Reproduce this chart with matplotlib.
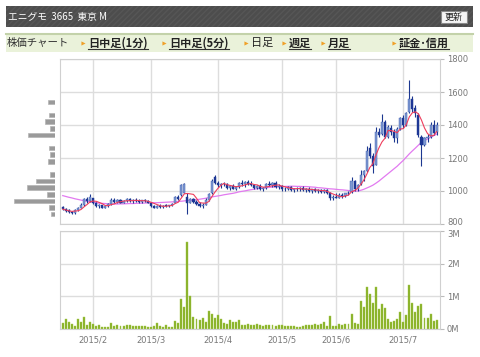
import numpy as np
import pandas as pd
import matplotlib
matplotlib.use('Agg')
import matplotlib.pyplot as plt
import matplotlib.transforms as mtransforms
from matplotlib.patches import Rectangle

plt.rcParams['font.family'] = ['DejaVu Sans', 'Noto Sans CJK JP']
JP = ['Noto Sans CJK JP', 'DejaVu Sans']

# trading days shown (TSE, 2015/1/19 - 2015/7/16)
jp_holidays = ['2015-02-11', '2015-04-29', '2015-05-04', '2015-05-05', '2015-05-06']
dates = pd.bdate_range('2015-01-19', '2015-07-16')
dates = dates[~dates.isin(pd.to_datetime(jp_holidays))]

opens = [905, 892, 882, 872, 866, 885, 900, 918, 950, 940,
         955, 925, 910, 915, 900, 910, 920, 945, 935, 945,
         930, 940, 950, 940, 945, 940, 935, 945, 940, 930,
         910, 900, 910, 905, 912, 910, 915, 930, 965, 975,
         990, 965, 930, 950, 935, 920, 910, 918, 948, 985,
         1085, 1050, 1035, 1045, 1040, 1020, 1030, 1015, 1025, 1050,
         1040, 1055, 1045, 1035, 1020, 1030, 1010, 1020, 1045, 1035,
         1050, 1025, 1030, 1010, 1015, 1025, 1005, 1015, 1010, 1020,
         1005, 1015, 1000, 1010, 1000, 1005, 995, 1005, 985, 955,
         965, 960, 975, 968, 985, 995, 1060, 1010, 1040, 1100,
         1120, 1260, 1215, 1160, 1360, 1345, 1420, 1330, 1380, 1355,
         1320, 1375, 1440, 1400, 1480, 1560, 1500, 1460, 1330, 1280,
         1320, 1330, 1400, 1355]
highs = [910, 900, 890, 880, 890, 905, 925, 955, 962, 980,
         960, 935, 920, 918, 915, 925, 955, 955, 950, 950,
         945, 960, 955, 950, 955, 950, 948, 950, 945, 935,
         915, 915, 920, 915, 920, 918, 925, 970, 975, 1045,
         1050, 985, 960, 955, 945, 935, 925, 955, 990, 1070,
         1095, 1060, 1050, 1055, 1048, 1035, 1040, 1030, 1055, 1065,
         1060, 1065, 1060, 1045, 1035, 1040, 1025, 1050, 1060, 1055,
         1058, 1040, 1035, 1025, 1030, 1030, 1020, 1025, 1025, 1028,
         1020, 1022, 1015, 1020, 1015, 1015, 1010, 1010, 995, 975,
         985, 985, 990, 990, 1000, 1085, 1065, 1040, 1125, 1130,
         1270, 1290, 1230, 1390, 1380, 1465, 1430, 1400, 1400, 1375,
         1390, 1450, 1460, 1480, 1670, 1575, 1520, 1470, 1340, 1330,
         1345, 1420, 1430, 1420]
lows = [885, 875, 865, 858, 862, 880, 895, 912, 930, 935,
        920, 905, 900, 895, 895, 905, 915, 930, 930, 925,
        925, 935, 935, 930, 935, 930, 930, 935, 925, 905,
        895, 895, 900, 900, 905, 902, 908, 925, 945, 970,
        985, 860, 925, 925, 915, 905, 900, 915, 940, 980,
        1045, 1025, 1020, 1030, 1015, 1005, 1010, 1005, 1020, 1030,
        1025, 1035, 1030, 1015, 1010, 1005, 1000, 1015, 1030, 1025,
        1020, 1010, 1000, 1000, 1005, 1000, 995, 1000, 1000, 1000,
        995, 995, 990, 995, 990, 985, 985, 980, 945, 945,
        955, 955, 960, 962, 975, 990, 1000, 1000, 1035, 1060,
        1115, 1200, 1110, 1155, 1330, 1340, 1320, 1320, 1340, 1300,
        1290, 1370, 1380, 1395, 1475, 1480, 1450, 1330, 1150, 1270,
        1300, 1320, 1340, 1340]
closes = [890, 880, 870, 866, 885, 900, 918, 950, 938, 965,
          925, 910, 915, 900, 910, 920, 945, 935, 945, 930,
          940, 952, 940, 945, 940, 935, 945, 940, 930, 910,
          900, 910, 905, 912, 910, 915, 920, 965, 950, 1035,
          1045, 930, 952, 935, 920, 910, 918, 948, 982, 1060,
          1050, 1035, 1045, 1040, 1020, 1030, 1015, 1025, 1050, 1040,
          1055, 1045, 1035, 1020, 1030, 1010, 1020, 1045, 1035, 1050,
          1025, 1030, 1010, 1015, 1025, 1005, 1015, 1010, 1020, 1005,
          1015, 1000, 1010, 1000, 1005, 995, 1005, 985, 955, 965,
          960, 975, 968, 985, 990, 1060, 1010, 1035, 1100, 1120,
          1240, 1215, 1150, 1360, 1340, 1420, 1330, 1385, 1355, 1320,
          1375, 1440, 1400, 1470, 1560, 1500, 1470, 1340, 1280, 1320,
          1330, 1400, 1350, 1400]
# 25-day line as drawn on the chart
ma25 = [972, 967, 962, 958, 953, 949, 945, 941, 938, 935,
        932, 929, 926, 925, 924, 922, 921, 921, 921, 922,
        922, 923, 924, 924, 925, 926, 926, 927, 928, 928,
        929, 929, 930, 931, 932, 933, 934, 935, 937, 938,
        940, 942, 943, 945, 947, 950, 953, 956, 960, 964,
        967, 970, 973, 977, 980, 983, 986, 990, 995, 998,
        1001, 1005, 1008, 1011, 1014, 1016, 1018, 1020, 1022, 1024,
        1025, 1026, 1027, 1028, 1028, 1029, 1029, 1028, 1028, 1027,
        1027, 1026, 1024, 1023, 1020, 1019, 1017, 1015, 1013, 1012,
        1010, 1008, 1007, 1005, 1003, 1001, 999, 1000, 1004, 1010,
        1018, 1026, 1035, 1047, 1060, 1075, 1090, 1105, 1120, 1135,
        1150, 1168, 1185, 1205, 1225, 1243, 1260, 1278, 1295, 1305,
        1315, 1325, 1335, 1345]
# volume (millions of shares)
volumes = [.18, .30, .20, .15, .10, .30, .20, .36, .13, .20,
           .15, .10, .13, .06, .06, .07, .18, .10, .13, .10,
           .08, .12, .13, .08, .09, .09, .08, .09, .07, .07,
           .09, .17, .10, .06, .12, .07, .07, .26, .18, .91,
           .66, 2.65, 1.01, .36, .31, .29, .34, .22, .56, .46,
           .35, .43, .32, .17, .16, .28, .22, .20, .28, .13,
           .13, .15, .13, .12, .15, .11, .08, .13, .12, .11,
           .09, .13, .12, .08, .08, .08, .08, .05, .05, .08,
           .12, .12, .11, .15, .12, .16, .20, .10, .40, .10,
           .10, .14, .12, .16, .16, .47, .18, .16, .86, .66,
           1.28, 1.07, .81, 1.30, .62, .76, .64, .31, .21, .25,
           .31, .52, .22, .42, 1.35, .80, .52, .71, .77, .35,
           .35, .47, .25, .27]
# price-band volume profile
profile_prices = [1540, 1460, 1420, 1380, 1340, 1260, 1220, 1180,
                  1100, 1060, 1020, 980, 940, 900, 860]
profile_sizes = [7, 6, 10, 5, 27, 6, 5, 7, 5, 19, 28, 8, 41, 6, 4]

price_ticks = [800, 1000, 1200, 1400, 1600, 1800]
vol_ticks = [0, 1, 2, 3]
vol_tick_labels = ['0M', '1M', '2M', '3M']

nav_items = [('日中足(1分)', 88, True), ('日中足(5分)', 169, True), ('日足', 251, False),
             ('週足', 289, True), ('月足', 328, True), ('証金･信用', 399, True)]

W, H = 480, 357
fig = plt.figure(figsize=(4.8, 3.57), dpi=100)


def box(l, t, r, b):
    return [l / W, 1 - b / H, (r - l) / W, (b - t) / H]


# header bars
bg = fig.add_axes([0, 0, 1, 1])
bg.set_xlim(0, W)
bg.set_ylim(H, 0)
bg.axis('off')
bg.add_patch(Rectangle((6, 6), 467, 21, facecolor='#4d4d4d', edgecolor='#565656',
                       hatch='//////', lw=0))
bg.text(8, 17, 'エニグモ  3665  東京 M', color='white', fontsize=7, va='center', family=JP)
bg.add_patch(Rectangle((441, 11), 26, 12, facecolor='#f5f5f5', edgecolor='#8a8a8a', lw=0.8))
bg.text(454, 17.5, '更新', color='#222222', fontsize=6.5, va='center', ha='center', family=JP)

bg.add_patch(Rectangle((6, 33), 467, 19, facecolor='#eaf2da', edgecolor='none'))
bg.plot([6, 473], [33.5, 33.5], color='#c3d2aa', lw=1.5)
bg.text(7, 43, '株価チャート', color='#333333', fontsize=7.5, va='center', family=JP)
for label, xpos, bold in nav_items:
    bg.plot([xpos - 5], [43], marker='>', ms=3, color='#f0a028', mec='none')
    t = bg.text(xpos, 43, label, color='#222222', fontsize=8, va='center', family=JP,
                fontweight='bold' if bold else 'normal')
    if bold:
        fig.canvas.draw()
        bb = t.get_window_extent()
        bg.plot([bb.x0, bb.x1], [48.5, 48.5], color='#333333', lw=0.8)

x = np.arange(len(dates))
month_idx = [i for i in range(1, len(dates)) if dates[i].month != dates[i - 1].month]
month_labels = [f'{dates[i].year}/{dates[i].month}' for i in month_idx]

o = np.array(opens)
c = np.array(closes)
up = c >= o
body_bottom = np.minimum(o, c)
body_h = np.maximum(np.abs(c - o), 4)

# price panel
ax = fig.add_axes(box(60, 59, 440, 224))
ax.vlines(x, lows, highs, color='#1c3790', lw=0.8, zorder=3)
ax.bar(x[up], body_h[up], bottom=body_bottom[up], width=0.7, color='#7f9ad2',
       edgecolor='#3b5aae', lw=0.3, zorder=4)
ax.bar(x[~up], body_h[~up], bottom=body_bottom[~up], width=0.7, color='#1d3795',
       edgecolor='#1d3795', lw=0.3, zorder=4)
ma5 = pd.Series(closes).rolling(5, min_periods=1).mean()
ax.plot(x, ma25, color='#e27af0', lw=0.9, zorder=2)
ax.plot(x, ma5, color='#ee3d5c', lw=0.8, zorder=5)
ax.set_xlim(-0.9, 124.1)
ax.set_ylim(800, 1800)
ax.set_yticks(price_ticks)
ax.yaxis.tick_right()
ax.set_xticks(month_idx)
ax.tick_params(axis='x', length=0, labelbottom=False)
ax.tick_params(axis='y', length=3, color='#bbbbbb', labelsize=6, labelcolor='#777777', pad=2)
ax.grid(True, color='#dddddd', lw=1)
ax.set_axisbelow(True)
for s in ax.spines.values():
    s.set_color('#d0d0d0')

# volume profile
pf = fig.add_axes(box(10, 59, 55, 224), sharey=ax)
pf.barh(profile_prices, profile_sizes, height=27, color='#9a9a9a', edgecolor='#b5b5b5', lw=0.5)
pf.set_xlim(45, 0)
pf.axis('off')

# volume panel
av = fig.add_axes(box(60, 231, 440, 329))
av.bar(x, volumes, width=0.65, color='#86b026', edgecolor='#a4c84a', lw=0.3)
av.set_xlim(-0.9, 124.1)
av.set_ylim(0, 3)
av.set_yticks(vol_ticks)
av.set_yticklabels(vol_tick_labels)
av.yaxis.tick_right()
av.set_xticks(month_idx)
av.set_xticklabels(month_labels)
av.tick_params(axis='x', length=0, labelsize=6, labelcolor='#777777', pad=5)
av.tick_params(axis='y', length=3, color='#bbbbbb', labelsize=6, labelcolor='#777777', pad=2)
av.grid(True, color='#dddddd', lw=1)
av.set_axisbelow(True)
for s in av.spines.values():
    s.set_color('#d0d0d0')

# keep "800" and "3M" apart where the two panels meet
fig.canvas.draw()
ax.get_yticklabels()[0].set_transform(
    ax.get_yticklabels()[0].get_transform()
    + mtransforms.ScaledTranslation(0, 2 / 72, fig.dpi_scale_trans))
av.get_yticklabels()[-1].set_transform(
    av.get_yticklabels()[-1].get_transform()
    + mtransforms.ScaledTranslation(0, -1.5 / 72, fig.dpi_scale_trans))

fig.savefig('out.png', dpi=100)
